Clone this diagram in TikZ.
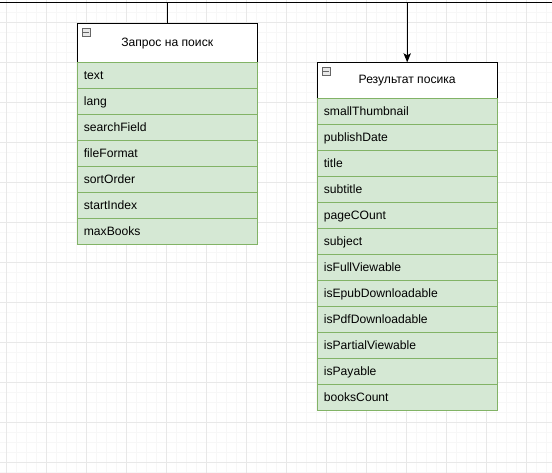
\documentclass[tikz,border=0pt]{standalone}
\usepackage{fontspec}
\setmainfont{Liberation Sans}
\usetikzlibrary{arrows.meta}
\definecolor{rowfill}{HTML}{D5E8D4}
\definecolor{rowline}{HTML}{82B366}
\definecolor{gridminor}{HTML}{F7F7F7}
\definecolor{gridmajor}{HTML}{E8E8E8}
\definecolor{iconline}{HTML}{666666}
\definecolor{iconfill}{HTML}{E8E8E8}
\begin{document}
\begin{tikzpicture}[x=0.75pt,y=-0.75pt,
  hdr/.style={draw=black,line width=0.75pt,fill=white,minimum width=135pt,anchor=north west,inner sep=0pt,font=\fontsize{9.1}{11}\selectfont},
  rowbox/.style={draw=rowline,line width=0.75pt,fill=rowfill,minimum width=135pt,minimum height=19.5pt,anchor=north west,inner xsep=5pt,inner ysep=0pt,text height=7.3pt,text depth=1.2pt,font=\fontsize{9.1}{11}\selectfont},
  iconbox/.style={draw=iconline,fill=iconfill,line width=0.5pt,minimum size=6pt,inner sep=0pt,anchor=north west},
  iconbar/.style={draw=iconline,line width=0.6pt},
  wire/.style={draw=black,line width=0.75pt},
  minorline/.style={draw=gridminor,line width=0.5pt},
  majorline/.style={draw=gridmajor,line width=0.5pt}]
\useasboundingbox (0,0) rectangle (552,473);
\fill[white] (0,0) rectangle (552,473);
% grid
\foreach \k in {0,...,55} {\draw[minorline] (6.7+10*\k,0) -- (6.7+10*\k,473);}
\foreach \k in {0,...,47} {\draw[minorline] (0,2.3+10*\k) -- (552,2.3+10*\k);}
\foreach \k in {0,...,13} {\draw[majorline] (6.7+40*\k,0) -- (6.7+40*\k,473);}
\foreach \k in {0,...,11} {\draw[majorline] (0,22.3+40*\k) -- (552,22.3+40*\k);}
% left class
\node[hdr,minimum height=29.25pt] (h1) at (76.7,23.3) {Запрос на поиск};
\foreach \t [count=\i from 0] in {text,lang,searchField,fileFormat,sortOrder,startIndex,maxBooks}
  {\node[rowbox] (a\i) at (76.7,62.3+26*\i) {\makebox[125pt][l]{\t}};}
\node[iconbox] (ic1) at (81.7,28.3) {};
\draw[iconbar] ([xshift=1.3pt]ic1.west) -- ([xshift=-1.3pt]ic1.east);
% right class
\node[hdr,minimum height=27pt] (h2) at (316.7,62.3) {Результат посика};
\foreach \t [count=\i from 0] in {smallThumbnail,publishDate,title,subtitle,pageCOunt,subject,isFullViewable,isEpubDownloadable,isPdfDownloadable,isPartialViewable,isPayable,booksCount}
  {\node[rowbox] (b\i) at (316.7,98.3+26*\i) {\makebox[125pt][l]{\t}};}
\node[iconbox] (ic2) at (321.7,67.3) {};
\draw[iconbar] ([xshift=1.3pt]ic2.west) -- ([xshift=-1.3pt]ic2.east);
% connectors
\coordinate (L) at (0,2.3);
\coordinate (R) at (552,2.3);
\draw[wire] (L) -- (R);
\draw[wire] (h1.north |- L) -- (h1.north);
\draw[wire,-{Stealth[length=6.75pt,width=5.5pt,inset=1.5pt]}] (h2.north |- L) -- (h2.north);
\end{tikzpicture}
\end{document}
